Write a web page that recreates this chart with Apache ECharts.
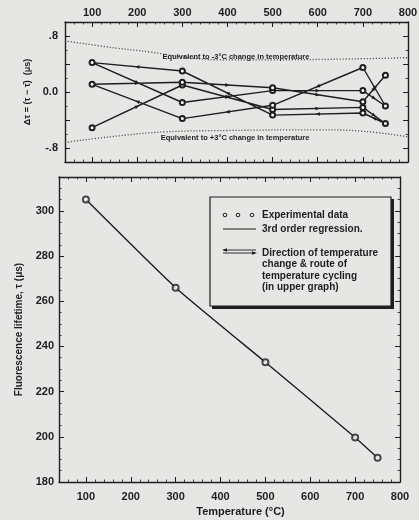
<!DOCTYPE html>
<html>
<head>
<meta charset="utf-8">
<script src="https://cdn.jsdelivr.net/npm/echarts@6/dist/echarts.min.js"></script>
<style>
  html, body { margin: 0; padding: 0; background: #e6e6e4; }
  #chart { width: 419px; height: 520px; }
</style>
</head>
<body>
<div id="chart"></div>
<script>
// Calibration temperatures (°C) and the measured fluorescence lifetime (μs)
const temps = [100, 300, 500, 700, 750];
const lifetimes = [305, 266, 233, 199.7, 190.7];

// Temperature cycling route: temperature visited, in order, and the residual Δτ (μs)
const cycleTemps = [100, 300, 500, 700, 750, 700, 500, 300, 100, 300, 500, 700, 750, 700, 500, 300, 100, 300, 500, 700, 750];
const cycleDelta = [-0.51, 0.10, -0.25, -0.22, -0.45, -0.30, -0.33, 0.30, 0.42, -0.15, 0.02, 0.02, -0.20, 0.35, -0.19, -0.38, 0.11, 0.14, 0.06, -0.14, 0.24];

// Residual equivalent to a ±3 °C temperature error
const coolBandT = [40, 150, 230, 300, 380, 500, 650, 800];
const coolBandV = [0.73, 0.63, 0.57, 0.50, 0.46, 0.46, 0.47, 0.49];
const heatBandT = [40, 140, 260, 400, 600, 700, 800];
const heatBandV = [-0.72, -0.64, -0.57, -0.55, -0.54, -0.56, -0.64];

// Tick values
const tempTicks = [100, 200, 300, 400, 500, 600, 700, 800];
const deltaTicks = [-0.8, 0, 0.8];
const deltaTickMarks = [-0.8, -0.4, 0, 0.4, 0.8];
const lifeTicks = [180, 200, 220, 240, 260, 280, 300];

const INK = '#1e1e1e';
const PAPER = '#e6e6e4';
const FONT = 'Liberation Sans';

const pairs = (xs, ys) => xs.map((x, i) => [x, ys[i]]);
const cyclePoints = pairs(cycleTemps, cycleDelta);
const cycleSegments = cyclePoints.slice(1).map((p, i) => [cyclePoints[i][0], cyclePoints[i][1], p[0], p[1]]);

// Frame axis: draws one side of a panel, optionally with labels
function frameAxis(grid, position, min, max, tickValues, labels, extra) {
  return Object.assign({
    type: 'value', gridIndex: grid, position: position, min: min, max: max,
    axisLine: { show: true, onZero: false, lineStyle: { color: INK, width: 1.4 } },
    axisTick: { show: true, inside: true, length: 5, customValues: tickValues, lineStyle: { color: INK, width: 1 } },
    axisLabel: labels ? Object.assign({
      show: true, customValues: labels.values, color: INK,
      fontFamily: FONT, fontWeight: 'bold', fontSize: 11
    }, labels.opts || {}) : { show: false },
    splitLine: { show: false }
  }, extra || {});
}
// Minor tick axis: short inner ticks at a regular step
function minorAxis(grid, position, min, max, step) {
  return {
    type: 'value', gridIndex: grid, position: position, min: min, max: max, interval: step,
    axisLine: { show: false, onZero: false },
    axisTick: { show: true, inside: true, length: 2.5, lineStyle: { color: INK, width: 0.8 } },
    axisLabel: { show: false },
    splitLine: { show: false }
  };
}

const fmtDelta = v => v === 0 ? '0.0' : v.toFixed(1).replace('0.', '.');

const option = {
  backgroundColor: PAPER,
  animation: false,
  grid: [
    { left: 65, right: 11, top: 22, height: 140, containLabel: false, outerBoundsMode: 'none' },
    { left: 59, right: 19, top: 177, bottom: 38, containLabel: false, outerBoundsMode: 'none' }
  ],
  xAxis: [
    frameAxis(0, 'top', 40, 800, tempTicks, { values: tempTicks, opts: { margin: 4 } }),
    frameAxis(0, 'bottom', 40, 800, tempTicks, null),
    minorAxis(0, 'top', 40, 800, 20),
    minorAxis(0, 'bottom', 40, 800, 20),
    frameAxis(1, 'bottom', 40, 800, tempTicks, { values: tempTicks, opts: { margin: 9 } }, {
      name: 'Temperature (°C)', nameLocation: 'middle', nameGap: 22,
      nameTextStyle: { color: INK, fontFamily: FONT, fontWeight: 'bold', fontSize: 11, padding: [0, 0, 0, 22] }
    }),
    frameAxis(1, 'top', 40, 800, tempTicks, null),
    minorAxis(1, 'top', 40, 800, 20),
    minorAxis(1, 'bottom', 40, 800, 20)
  ],
  yAxis: [
    frameAxis(0, 'left', -1, 1, deltaTickMarks, { values: deltaTicks, opts: { margin: 7, formatter: fmtDelta } }, {
      name: 'Δτ = (τ − τ̄)  (μs)', nameLocation: 'middle', nameGap: 23,
      nameTextStyle: { color: INK, fontFamily: FONT, fontWeight: 'bold', fontSize: 9 }
    }),
    frameAxis(0, 'right', -1, 1, deltaTickMarks, null),
    minorAxis(0, 'left', -1, 1, 0.2),
    minorAxis(0, 'right', -1, 1, 0.2),
    frameAxis(1, 'left', 180, 315, lifeTicks, { values: lifeTicks, opts: { margin: 5 } }, {
      name: 'Fluorescence lifetime, τ (μs)', nameLocation: 'middle', nameGap: 35,
      nameTextStyle: { color: INK, fontFamily: FONT, fontWeight: 'bold', fontSize: 10 }
    }),
    frameAxis(1, 'right', 180, 315, lifeTicks, null),
    minorAxis(1, 'left', 180, 315, 5),
    minorAxis(1, 'right', 180, 315, 5)
  ],
  series: [
    {
      name: 'cool band', type: 'line', xAxisIndex: 0, yAxisIndex: 0, smooth: 0.4, symbol: 'none',
      data: pairs(coolBandT, coolBandV), silent: true,
      lineStyle: { color: '#3a3a3a', width: 1.3, type: [1, 2] }
    },
    {
      name: 'heat band', type: 'line', xAxisIndex: 0, yAxisIndex: 0, smooth: 0.4, symbol: 'none',
      data: pairs(heatBandT, heatBandV), silent: true,
      lineStyle: { color: '#3a3a3a', width: 1.3, type: [1, 2] }
    },
    {
      name: 'cycling route', type: 'line', xAxisIndex: 0, yAxisIndex: 0,
      data: cyclePoints, symbol: 'emptyCircle', symbolSize: 5,
      lineStyle: { color: INK, width: 1.4 },
      itemStyle: { color: INK, borderColor: INK, borderWidth: 1 }
    },
    {
      // direction arrowheads at the middle of each leg of the route
      name: 'route direction', type: 'custom', xAxisIndex: 0, yAxisIndex: 0,
      data: cycleSegments, encode: { x: [0, 2], y: [1, 3] }, silent: true,
      renderItem: function (params, api) {
        const p1 = api.coord([api.value(0), api.value(1)]);
        const p2 = api.coord([api.value(2), api.value(3)]);
        const mx = (p1[0] + p2[0]) / 2, my = (p1[1] + p2[1]) / 2;
        const a = Math.atan2(p2[1] - p1[1], p2[0] - p1[0]);
        const L = 4.5, W = 1.8;
        const c = Math.cos(a), s = Math.sin(a);
        const tip = [mx + c * L / 2, my + s * L / 2];
        const bx = mx - c * L / 2, by = my - s * L / 2;
        return {
          type: 'polygon',
          shape: { points: [tip, [bx - s * W, by + c * W], [bx + s * W, by - c * W]] },
          style: { fill: INK }
        };
      }
    },
    {
      name: '3rd order regression.', type: 'line', xAxisIndex: 4, yAxisIndex: 4,
      data: pairs(temps, lifetimes), smooth: 0.15, symbol: 'none',
      lineStyle: { color: INK, width: 1.4 }
    },
    {
      name: 'Experimental data', type: 'scatter', xAxisIndex: 4, yAxisIndex: 4,
      data: pairs(temps, lifetimes), symbol: 'emptyCircle', symbolSize: 6, z: 5,
      itemStyle: { color: INK, borderColor: INK, borderWidth: 1.2 }
    }
  ],
  graphic: [
    { type: 'text', x: 236, y: 57, style: { text: 'Equivalent to -3°C change in temperature', font: 'bold 7.5px ' + FONT, fill: INK, align: 'center', verticalAlign: 'middle' } },
    { type: 'text', x: 235, y: 138, style: { text: 'Equivalent to +3°C change in temperature', font: 'bold 7.5px ' + FONT, fill: INK, align: 'center', verticalAlign: 'middle' } },
    // legend box with its drop shadow
    { type: 'rect', shape: { x: 212, y: 199, width: 182, height: 110 }, style: { fill: INK } },
    { type: 'rect', shape: { x: 210, y: 197, width: 181, height: 109 }, style: { fill: PAPER, stroke: INK, lineWidth: 1.2 } },
    { type: 'circle', shape: { cx: 225, cy: 215, r: 1.8 }, style: { fill: 'none', stroke: INK, lineWidth: 1 } },
    { type: 'circle', shape: { cx: 238, cy: 215, r: 1.8 }, style: { fill: 'none', stroke: INK, lineWidth: 1 } },
    { type: 'circle', shape: { cx: 252, cy: 215, r: 1.8 }, style: { fill: 'none', stroke: INK, lineWidth: 1 } },
    { type: 'text', x: 262, y: 215, style: { text: 'Experimental data', font: 'bold 10px ' + FONT, fill: INK, verticalAlign: 'middle' } },
    { type: 'line', shape: { x1: 223, y1: 229, x2: 256, y2: 229 }, style: { stroke: INK, lineWidth: 1.2 } },
    { type: 'text', x: 262, y: 229, style: { text: '3rd order regression.', font: 'bold 10px ' + FONT, fill: INK, verticalAlign: 'middle' } },
    { type: 'line', shape: { x1: 224, y1: 250, x2: 256, y2: 250 }, style: { stroke: INK, lineWidth: 0.9 } },
    { type: 'line', shape: { x1: 223, y1: 253, x2: 255, y2: 253 }, style: { stroke: INK, lineWidth: 0.9 } },
    { type: 'polygon', shape: { points: [[222, 250], [227, 248.3], [227, 251.7]] }, style: { fill: INK } },
    { type: 'polygon', shape: { points: [[257, 253], [252, 251.3], [252, 254.7]] }, style: { fill: INK } },
    { type: 'text', x: 262, y: 247, style: { text: 'Direction of temperature\nchange & route of\ntemperature cycling\n(in upper graph)', font: 'bold 10px ' + FONT, fill: INK, lineHeight: 11.5, verticalAlign: 'top' } }
  ]
};

const chart = echarts.init(document.getElementById('chart'), null, { renderer: 'canvas' });
chart.setOption(option);
</script>
</body>
</html>
